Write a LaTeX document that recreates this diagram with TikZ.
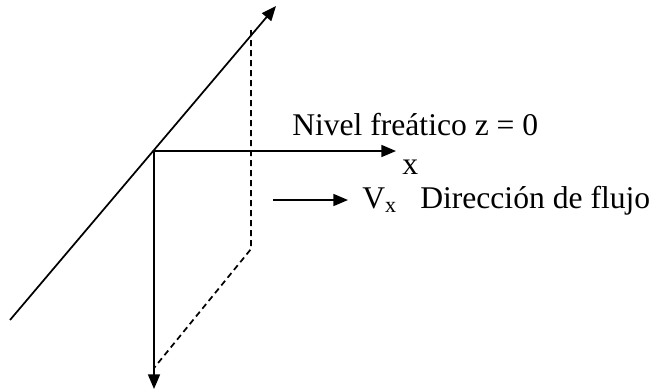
\documentclass[tikz,border=0pt]{standalone}
\usepackage{fontspec}
\setmainfont{Liberation Serif}
\usepackage{tikz}
\usetikzlibrary{positioning,arrows.meta}

\begin{document}
\begin{tikzpicture}[x=0.75pt, y=-0.75pt,
		axis/.style={line width=1.3pt, -{Triangle[length=11pt,width=9pt]}},
		guide/.style={line width=1.3pt, dash pattern=on 4.5pt off 3pt},
		lbl/.style={inner sep=0pt, anchor=base west, font=\fontsize{23.7}{28}\selectfont}]
		\useasboundingbox (0,0) rectangle (652,389);
		
		% Axes
		\coordinate (O) at (154,151);
		\coordinate (ylow) at (10,320);
		\coordinate (ytop) at (276,6);
		\coordinate (xend) at (396,151);
		\coordinate (zend) at (154,389);
		\draw[axis] (ylow) -- (ytop);
		\draw[axis] (O) -- (xend);
		\draw[axis] (O) -- (zend);
		
		% Dashed plane
		\coordinate (pa) at (251,30);
		\coordinate (pb) at (251,249);
		\coordinate (pc) at (154,368);
		\draw[guide] (pa) -- (pb) -- (pc);
		
		% Labels
		\node[lbl] (nivel) at (292,135) {Nivel freático z = 0};
		\node[lbl] (xlab) at (402,174) {x};
		
		% Flow direction
		\coordinate (fa) at (273,200);
		\coordinate (fb) at (348,200);
		\draw[axis] (fa) -- (fb);
		\node[lbl] (vx) at (362,208) {V\textsubscript{x}};
		\node[lbl] (flujo) at (420,208) {Dirección de flujo};
	\end{tikzpicture}
\end{document}
